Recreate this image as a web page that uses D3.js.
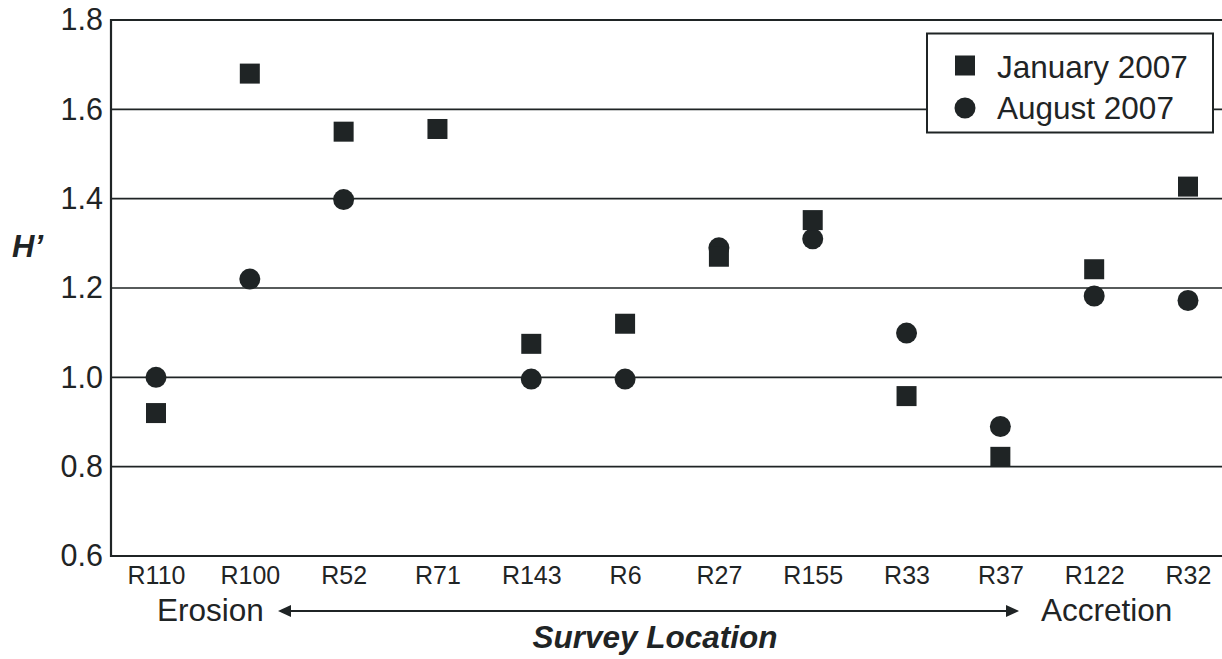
<!DOCTYPE html>
<html>
<head>
<meta charset="utf-8">
<script src="https://cdn.jsdelivr.net/npm/d3@7"></script>
<style>
  html, body { margin: 0; padding: 0; background: #fff; }
  svg { display: block; font-family: "Liberation Sans", Arial, sans-serif; }
</style>
</head>
<body>
<svg id="chart" width="1222" height="659"></svg>
<script>
// Survey locations, ordered from erosion to accretion
const locations = ["R110", "R100", "R52", "R71", "R143", "R6", "R27", "R155", "R33", "R37", "R122", "R32"];
// Shannon diversity H' per location
const january2007 = [0.92, 1.68, 1.55, 1.556, 1.075, 1.12, 1.27, 1.352, 0.958, 0.822, 1.242, 1.427];
const august2007  = [1.0, 1.22, 1.398, null, 0.996, 0.996, 1.29, 1.31, 1.099, 0.89, 1.182, 1.172];
const yTicks = [0.6, 0.8, 1.0, 1.2, 1.4, 1.6, 1.8];
const seriesNames = ["January 2007", "August 2007"];

const ink = "#1f2425";
const svg = d3.select("#chart");

const plot = { left: 111, right: 1230, top: 20, bottom: 556 };

const x = d3.scalePoint().domain(locations).range([156, 1188]);
const y = d3.scaleLinear().domain([0.6, 1.8]).range([plot.bottom, plot.top]);

// horizontal gridlines
svg.append("g")
  .selectAll("line")
  .data(yTicks.filter(t => t > 0.6 && t < 1.8))
  .join("line")
  .attr("x1", plot.left).attr("x2", plot.right)
  .attr("y1", d => y(d)).attr("y2", d => y(d))
  .attr("stroke", ink).attr("stroke-width", 1.6);

// frame: left axis, top and bottom lines
svg.append("line").attr("x1", plot.left).attr("x2", plot.right)
  .attr("y1", y(1.8)).attr("y2", y(1.8)).attr("stroke", ink).attr("stroke-width", 2.2);
svg.append("line").attr("x1", plot.left).attr("x2", plot.right)
  .attr("y1", y(0.6)).attr("y2", y(0.6)).attr("stroke", ink).attr("stroke-width", 2.2);
svg.append("line").attr("x1", plot.left).attr("x2", plot.left)
  .attr("y1", y(1.8) - 1).attr("y2", y(0.6) + 1).attr("stroke", ink).attr("stroke-width", 2.2);

// y tick labels
const yAxis = d3.axisLeft(y).tickValues(yTicks).tickFormat(d3.format(".1f")).tickSize(0).tickPadding(8);
const gy = svg.append("g").attr("transform", `translate(${plot.left},0)`).call(yAxis);
gy.select(".domain").remove();
gy.selectAll("text").attr("font-size", 30.5).attr("fill", ink)
  .attr("font-family", "'Liberation Sans', Arial, sans-serif");

// x tick labels
const xAxis = d3.axisBottom(x).tickSize(0).tickPadding(10);
const gx = svg.append("g").attr("transform", `translate(0,${plot.bottom})`).call(xAxis);
gx.select(".domain").remove();
gx.selectAll("text").attr("font-size", 25).attr("fill", ink)
  .attr("font-family", "'Liberation Sans', Arial, sans-serif");

// August 2007 circles
svg.append("g")
  .selectAll("circle")
  .data(locations.map((loc, i) => ({ loc, v: august2007[i] })).filter(d => d.v != null))
  .join("circle")
  .attr("cx", d => x(d.loc)).attr("cy", d => y(d.v))
  .attr("r", 10.5).attr("fill", ink);

// January 2007 squares
const sq = 20;
svg.append("g")
  .selectAll("rect")
  .data(locations.map((loc, i) => ({ loc, v: january2007[i] })))
  .join("rect")
  .attr("x", d => x(d.loc) - sq / 2).attr("y", d => y(d.v) - sq / 2)
  .attr("width", sq).attr("height", sq).attr("fill", ink);

// legend
const legend = svg.append("g");
legend.append("rect").attr("x", 927).attr("y", 33.5).attr("width", 286).attr("height", 99)
  .attr("fill", "#fff").attr("stroke", ink).attr("stroke-width", 2);
legend.append("rect").attr("x", 965 - sq / 2).attr("y", 65.5 - sq / 2).attr("width", sq).attr("height", sq).attr("fill", ink);
legend.append("circle").attr("cx", 965).attr("cy", 108).attr("r", 10.5).attr("fill", ink);
legend.selectAll("text").data(seriesNames).join("text")
  .attr("x", 997).attr("y", (d, i) => 77.5 + i * 41)
  .attr("font-size", 31.5).attr("fill", ink).text(d => d);

// y axis title
svg.append("text").attr("x", 12).attr("y", 257)
  .attr("font-size", 31).attr("font-weight", "bold").attr("font-style", "italic")
  .attr("fill", ink).text("H’");

// erosion / accretion gradient arrow
svg.append("text").attr("x", 157).attr("y", 621).attr("font-size", 31.5).attr("fill", ink).text("Erosion");
svg.append("text").attr("x", 1041).attr("y", 621).attr("font-size", 31.5).attr("fill", ink).text("Accretion");
const arrowY = 611;
svg.append("line").attr("x1", 288).attr("x2", 1008).attr("y1", arrowY).attr("y2", arrowY)
  .attr("stroke", ink).attr("stroke-width", 2);
svg.append("path").attr("d", `M278,${arrowY} L291,${arrowY - 6} L291,${arrowY + 6} Z`).attr("fill", ink);
svg.append("path").attr("d", `M1019,${arrowY} L1006,${arrowY - 6} L1006,${arrowY + 6} Z`).attr("fill", ink);

// x axis title
svg.append("text").attr("x", 655).attr("y", 648).attr("text-anchor", "middle")
  .attr("font-size", 31.5).attr("font-weight", "bold").attr("font-style", "italic")
  .attr("fill", ink).text("Survey Location");
</script>
</body>
</html>
